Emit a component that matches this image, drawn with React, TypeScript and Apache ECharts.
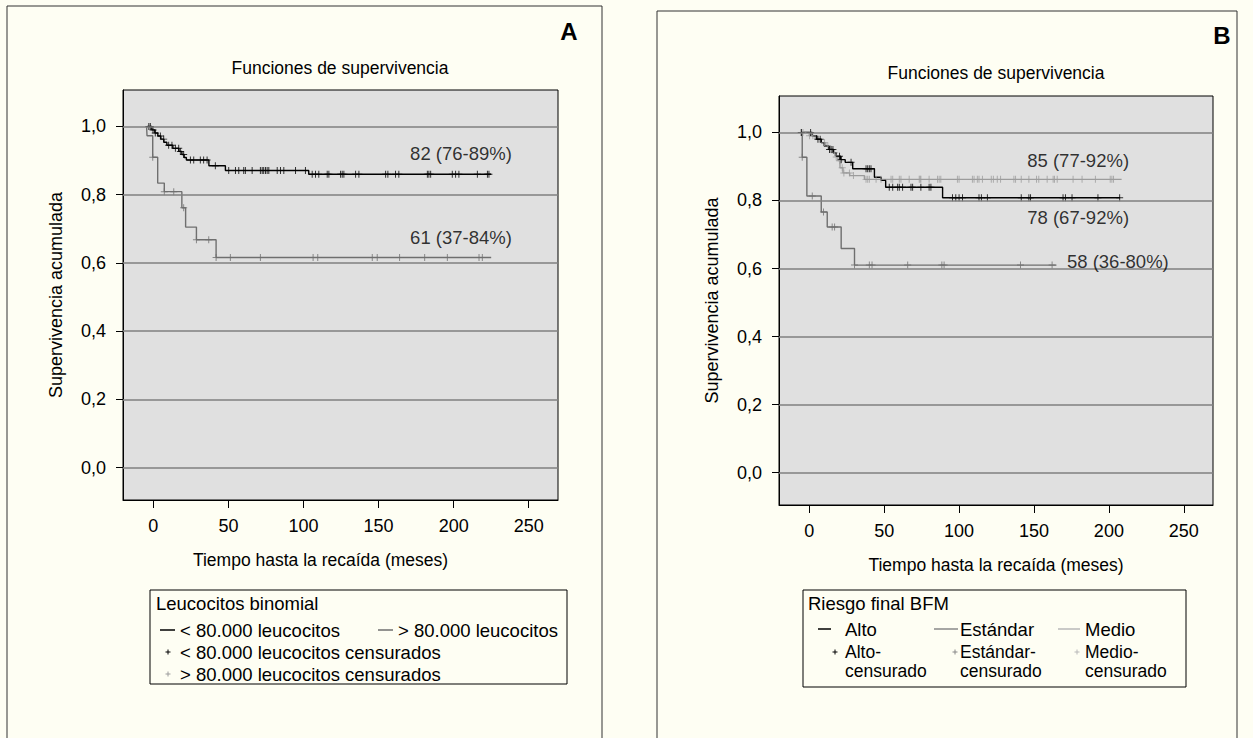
import React, { useEffect, useRef } from 'react';
import * as echarts from 'echarts';

const FONT = '"Liberation Sans", Arial, Helvetica, sans-serif';
const BG = '#fefef3';
const PLOT_BG = '#e0e0e0';
const GRID_COLOR = '#808080';

// ---------- Shared axis data ----------
const xTicks = [0, 50, 100, 150, 200, 250];
const yTicks = [0, 0.2, 0.4, 0.6, 0.8, 1.0];
const xTitle = 'Tiempo hasta la recaída (meses)';
const yTitle = 'Supervivencia acumulada';
const panelTitle = 'Funciones de supervivencia';

// ---------- Panel A: Leucocitos binomial ----------
// Kaplan-Meier steps [time (months), cumulative survival from that time on]
const aLowSteps: number[][] = [
  [-4, 1.0], [-1, 0.99], [1, 0.981], [3, 0.972], [5, 0.963], [7, 0.954], [9, 0.945],
  [13, 0.936], [17, 0.927], [19, 0.918], [20.5, 0.909], [22, 0.902], [37, 0.885],
  [48, 0.871], [103.5, 0.86], [225, 0.86],
];
const aLowCensored: number[] = [
  -3, -2, -0.2, 1.3, 4.7, 6.9, 10.2, 12.4, 14.7, 16.9, 18, 20.2, 24.7, 26.9, 31.3, 33.5,
  35.8, 41.3, 50.2, 54.7, 56.9, 60.2, 61.3, 65.8, 71.3, 72.5, 73.5, 74.7, 75.8, 76.9, 82.5,
  84.7, 86.9, 94.7, 101.3, 105.8, 108, 110.2, 115.8, 116.9, 124.7, 125.8, 126.9, 134.7,
  136.9, 154.7, 156.2, 161.3, 163.5, 182.5, 183.5, 184.7, 199.1, 201.3, 203.5, 215.8,
  222.5, 223.5,
];
const aHighSteps: number[][] = [
  [-4.5, 1.0], [-4.2, 0.973], [-0.4, 0.91], [2.9, 0.834], [7.3, 0.809], [19, 0.762],
  [21.5, 0.705], [28.7, 0.668], [41.8, 0.616], [225, 0.616],
];
const aHighCensored: number[] = [
  -0.4, 7.3, 13.6, 20.2, 28.7, 36.9, 41.8, 51.3, 71.3, 106.4, 109.5, 145.8, 149.1, 164,
  180.7, 195.8, 216.9, 219.1,
];
const aAnnotations = [
  { value: [171, 0.92], text: '82 (76-89%)' },
  { value: [171, 0.674], text: '61 (37-84%)' },
];

// ---------- Panel B: Riesgo final BFM ----------
const bAltoSteps: number[][] = [
  [-5.5, 1.0], [2, 0.99], [5, 0.98], [8, 0.97], [10, 0.96], [13, 0.95], [16, 0.94],
  [18, 0.93], [21, 0.92], [24, 0.912], [29, 0.893], [43.5, 0.868], [48, 0.859],
  [51, 0.839], [89, 0.808], [207.5, 0.808],
];
const bAltoCensored: number[] = [
  -5.3, 0.9, 5.8, 7.3, 13.5, 14.6, 15.8, 20.2, 21.3, 27.9, 37.9, 39, 40.1, 41.2, 53.4,
  55.7, 59, 60.1, 62.3, 67.9, 69, 74.5, 80, 81.2, 95.6, 97.8, 100, 102.3, 113.3, 114.9,
  118.9, 141.5, 146.6, 147.7, 169.4, 171, 175.4, 192.7, 207.2,
];
const bEstandarSteps: number[][] = [
  [-5.5, 1.0], [-4.7, 0.927], [-1.6, 0.813], [8, 0.766], [12, 0.722], [21.3, 0.659],
  [30.2, 0.61], [165, 0.61],
];
const bEstandarCensored: number[] = [
  -5.3, -4.7, 2, 9.5, 15.3, 16.9, 30.2, 40.1, 41.9, 65.7, 88.5, 90, 141, 162.1,
];
const bMedioSteps: number[][] = [
  [-4.5, 1.0], [0, 0.99], [4, 0.98], [8, 0.97], [11, 0.96], [14, 0.95], [16.5, 0.94],
  [18, 0.928], [19.1, 0.917], [20.5, 0.896], [22.5, 0.881], [27, 0.873], [36.8, 0.862],
  [208.5, 0.862],
];
const bMedioCensored: number[] = [
  -4.2, 0.2, 2.4, 10.2, 12.4, 16.9, 18, 20.2, 22, 23.1, 26.8, 29.5, 37.9, 39, 40.1, 44.6,
  47.9, 54.6, 55.7, 60.1, 61.2, 66.7, 73.4, 74, 74.5, 80, 85.6, 86.7, 87.8, 98.9, 100,
  108.9, 110, 112.2, 113.3, 115.6, 121.5, 122.9, 125.5, 127.7, 136.6, 137.7, 141.5, 146.6,
  151.7, 153.2, 158.8, 162.8, 163.7, 165.5, 176.1, 182.1, 191, 200.9, 202, 203.1,
];
const bAnnotations = [
  { value: [145.5, 0.917], text: '85 (77-92%)' },
  { value: [145.5, 0.75], text: '78 (67-92%)' },
  { value: [172, 0.621], text: '58 (36-80%)' },
];

// Colors
const C_BLACK = '#000000';
const C_GRAY = '#6f6f6f';
const C_LIGHT = '#9c9c9c';

const PLUS = 'path://M4.3,0h1.4v4.3h4.3v1.4h-4.3v4.3h-1.4v-4.3h-4.3v-1.4h4.3z';

function survivalAt(steps: number[][], t: number): number {
  let s = steps[0][1];
  for (const [ti, si] of steps) {
    if (ti <= t) s = si;
  }
  return s;
}
function censorPoints(steps: number[][], times: number[]) {
  return times.map((t) => [t, survivalAt(steps, t)]);
}

function axisPair(gridIndex: number, xNameShift: number) {
  const xAxis = {
    type: 'value', gridIndex, min: -20.2, max: 269.5,
    name: xTitle, nameLocation: 'middle', nameGap: 51,
    nameTextStyle: {
      fontFamily: FONT, fontSize: 17.5, color: '#000',
      padding: xNameShift > 0 ? [0, xNameShift * 2, 0, 0] : 0,
    },
    axisLine: { show: true, onZero: false, lineStyle: { color: '#000', width: 1 } },
    axisTick: { show: true, length: 8, customValues: xTicks, lineStyle: { color: '#000' } },
    axisLabel: { customValues: xTicks, margin: 17, fontFamily: FONT, fontSize: 18, color: '#000' },
    splitLine: { show: false },
  };
  const yAxis = {
    type: 'value', gridIndex, min: -0.095, max: 1.107,
    name: yTitle, nameLocation: 'middle', nameGap: 58,
    nameTextStyle: { fontFamily: FONT, fontSize: 18, color: '#000' },
    axisLine: { show: true, onZero: false, lineStyle: { color: '#000', width: 1 } },
    axisTick: { show: true, length: 7, customValues: yTicks, lineStyle: { color: '#000' } },
    axisLabel: {
      customValues: yTicks, margin: 17, fontFamily: FONT, fontSize: 18, color: '#000',
      formatter: (v: number) => v.toFixed(1).replace('.', ','),
    },
    splitLine: { show: false },
  };
  return { xAxis, yAxis };
}

function gridLines(idx: number) {
  return {
    type: 'line', xAxisIndex: idx, yAxisIndex: idx, data: [], silent: true, z: 1,
    markLine: {
      silent: true, symbol: ['none', 'none'], label: { show: false },
      lineStyle: { color: GRID_COLOR, width: 1.5, type: 'solid' },
      data: yTicks.map((v) => ({ yAxis: v })),
      animation: false,
    },
  };
}

function curve(idx: number, steps: number[][], color: string) {
  return {
    type: 'line', xAxisIndex: idx, yAxisIndex: idx, step: 'end', data: steps,
    showSymbol: false, symbol: 'none', z: 3,
    lineStyle: { color, width: 1.4 },
  };
}
function censors(idx: number, steps: number[][], times: number[], color: string) {
  return {
    type: 'scatter', xAxisIndex: idx, yAxisIndex: idx, data: censorPoints(steps, times),
    symbol: PLUS, symbolSize: 7, z: 4, itemStyle: { color },
  };
}
function annotations(idx: number, items: { value: number[]; text: string }[]) {
  return {
    type: 'scatter', xAxisIndex: idx, yAxisIndex: idx, symbolSize: 0, z: 5,
    data: items.map((d) => ({ value: d.value, name: d.text })),
    label: {
      show: true, position: 'right', distance: 0, formatter: (p: any) => p.name,
      fontFamily: FONT, fontSize: 18.5, color: '#000',
    },
  };
}

const LEG = 18.5;
function txt(text: string, x: number, y: number, opts: any = {}) {
  const align = opts.align || 'left';
  return {
    type: 'text', x, y, z: 10,
    style: {
      text, fill: opts.fill || '#000',
      font: `${opts.weight || 'normal'} ${opts.size || LEG}px ${FONT}`,
      align, textAlign: align, verticalAlign: 'middle', textVerticalAlign: 'middle',
    },
  };
}
function seg(x1: number, y1: number, x2: number, y2: number, color: string, w = 1.5) {
  return { type: 'line', z: 10, shape: { x1, y1, x2, y2 }, style: { stroke: color, lineWidth: w } };
}
function plus(cx: number, cy: number, color: string) {
  return [seg(cx - 2.5, cy, cx + 2.5, cy, color, 1), seg(cx, cy - 2.5, cx, cy + 2.5, color, 1)];
}

export default function App() {
  const ref = useRef<HTMLDivElement>(null);
  useEffect(() => {
    if (!ref.current) return;
    const chart = echarts.init(ref.current, undefined, { renderer: 'svg' });
    const a = axisPair(0, 20);
    const b = axisPair(1, 0);
    const SMALL = { size: 17.5 };
    const graphic: any[] = [
      // panel frames
      { type: 'rect', z: 0, shape: { x: 7, y: 6, width: 595, height: 760 }, style: { fill: 'none', stroke: '#333', lineWidth: 1 } },
      { type: 'rect', z: 0, shape: { x: 657, y: 11, width: 580, height: 760 }, style: { fill: 'none', stroke: '#333', lineWidth: 1 } },
      txt('A', 569, 31, { size: 24, weight: 'bold', align: 'center' }),
      txt('B', 1222, 35, { size: 24, weight: 'bold', align: 'center' }),
      txt(panelTitle, 340, 68, { size: 17.5, align: 'center' }),
      txt(panelTitle, 996, 73, { size: 17.5, align: 'center' }),
      // legend A
      { type: 'rect', z: 9, shape: { x: 150, y: 590, width: 417, height: 94 }, style: { fill: 'none', stroke: '#000', lineWidth: 1 } },
      txt('Leucocitos binomial', 156, 603),
      seg(160, 630, 175, 630, C_BLACK),
      txt('< 80.000 leucocitos', 180, 630),
      seg(378, 630, 393, 630, C_GRAY),
      txt('> 80.000 leucocitos', 398, 630),
      ...plus(168, 652, C_BLACK),
      txt('< 80.000 leucocitos censurados', 180, 652),
      ...plus(168, 674, C_LIGHT),
      txt('> 80.000 leucocitos censurados', 180, 674),
      // legend B
      { type: 'rect', z: 9, shape: { x: 803, y: 590, width: 383, height: 97 }, style: { fill: 'none', stroke: '#000', lineWidth: 1 } },
      txt('Riesgo final BFM', 808, 603),
      seg(818, 629, 831, 629, C_BLACK),
      txt('Alto', 845, 629),
      seg(934, 629, 958, 629, '#888888'),
      txt('Estándar', 960, 629),
      seg(1058, 629, 1080, 629, '#b8b8b8'),
      txt('Medio', 1085, 629),
      ...plus(835, 652, C_BLACK),
      txt('Alto-', 845, 652, SMALL),
      txt('censurado', 845, 670.5, SMALL),
      ...plus(955, 652, '#888888'),
      txt('Estándar-', 960, 652, SMALL),
      txt('censurado', 960, 670.5, SMALL),
      ...plus(1077, 652, '#b8b8b8'),
      txt('Medio-', 1085, 652, SMALL),
      txt('censurado', 1085, 670.5, SMALL),
    ];
    chart.setOption({
      animation: false,
      backgroundColor: BG,
      textStyle: { fontFamily: FONT },
      grid: [
        { left: 123, top: 90, width: 435, height: 410, show: true, backgroundColor: PLOT_BG, borderColor: '#000', borderWidth: 1 },
        { left: 779, top: 96, width: 434, height: 409, show: true, backgroundColor: PLOT_BG, borderColor: '#000', borderWidth: 1 },
      ],
      xAxis: [a.xAxis, b.xAxis],
      yAxis: [a.yAxis, b.yAxis],
      series: [
        gridLines(0),
        gridLines(1),
        curve(0, aHighSteps, C_GRAY),
        curve(0, aLowSteps, C_BLACK),
        censors(0, aHighSteps, aHighCensored, C_GRAY),
        censors(0, aLowSteps, aLowCensored, C_BLACK),
        annotations(0, aAnnotations),
        curve(1, bEstandarSteps, C_GRAY),
        curve(1, bMedioSteps, C_LIGHT),
        curve(1, bAltoSteps, C_BLACK),
        censors(1, bEstandarSteps, bEstandarCensored, C_GRAY),
        censors(1, bMedioSteps, bMedioCensored, C_LIGHT),
        censors(1, bAltoSteps, bAltoCensored, C_BLACK),
        annotations(1, bAnnotations),
      ],
      graphic,
    });
    return () => chart.dispose();
  }, []);
  return (
    <div
      ref={ref}
      style={{ position: 'absolute', left: 0, top: 0, width: 1253, height: 738, background: BG }}
    />
  );
}
